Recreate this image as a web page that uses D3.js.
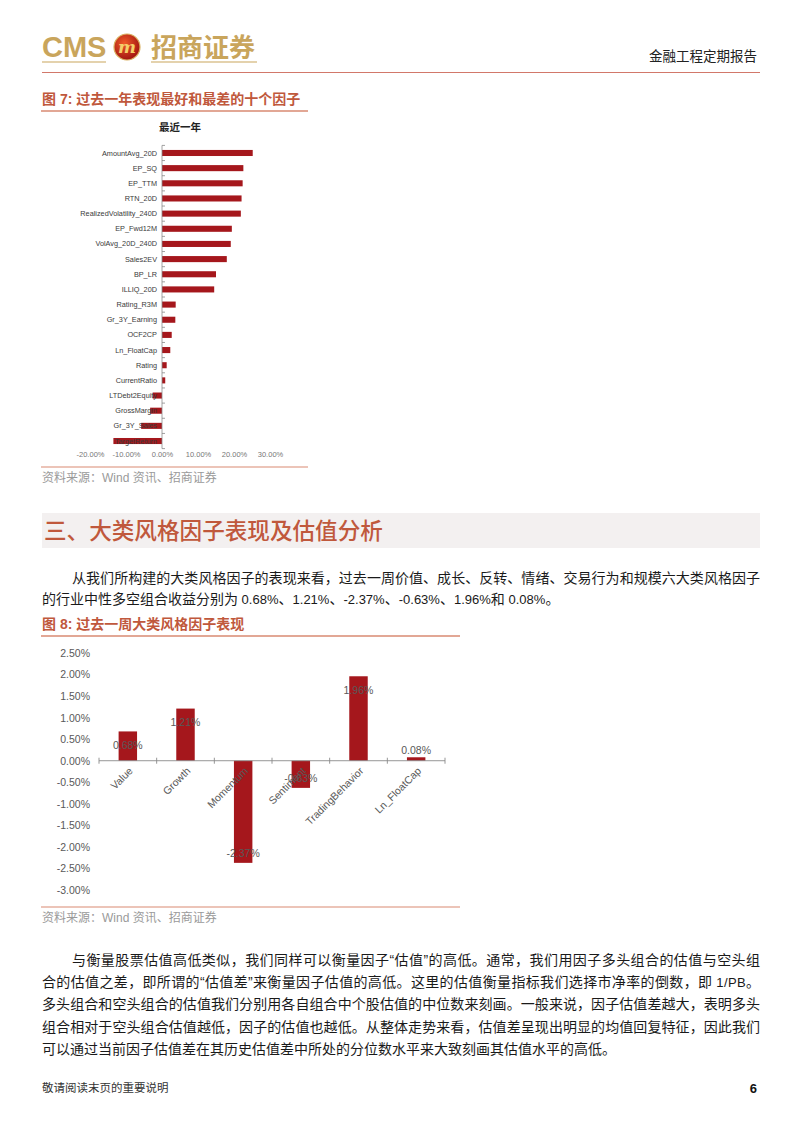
<!DOCTYPE html>
<html><head><meta charset="utf-8">
<script src="https://cdn.jsdelivr.net/npm/d3@7/dist/d3.min.js"></script>
<style>body{margin:0;background:#fff}svg{display:block}</style>
</head><body><svg id="page" width="802" height="1133"></svg>
<script>
// ---- data ----
const factors1 = ["AmountAvg_20D","EP_SQ","EP_TTM","RTN_20D","RealizedVolatility_240D","EP_Fwd12M","VolAvg_20D_240D","Sales2EV","BP_LR","ILLIQ_20D","Rating_R3M","Gr_3Y_Earning","OCF2CP","Ln_FloatCap","Rating","CurrentRatio","LTDebt2Equity","GrossMargin","Gr_3Y_Sales","TargetReturn"];
const returns1 = [25.2,22.6,22.4,22.1,21.9,19.4,19.1,18.0,15.0,14.5,3.8,3.7,2.7,2.3,1.3,0.9,-2.6,-3.3,-5.8,-13.5];
const ticks1 = [-20,-10,0,10,20,30];
const styles2 = ["Value","Growth","Momentum","Sentiment","TradingBehavior","Ln_FloatCap"];
const returns2 = [0.68,1.21,-2.37,-0.63,1.96,0.08];
const ticks2 = [2.5,2.0,1.5,1.0,0.5,0,-0.5,-1.0,-1.5,-2.0,-2.5,-3.0];

const CJK = "'Liberation Sans','Noto Sans CJK SC',sans-serif";
const svg = d3.select("#page");
const RED = "#a5171c", ACC = "#c0583c", LINE = "#d98a72", GOLD = "#c9a55c";

// ---- header ----
const defs = svg.append("defs");
const rg = defs.append("radialGradient").attr("id","lg").attr("cx","40%").attr("cy","35%").attr("r","70%");
rg.append("stop").attr("offset","0%").attr("stop-color","#f05a28");
rg.append("stop").attr("offset","100%").attr("stop-color","#9c1010");
svg.append("text").attr("x",42).attr("y",57).attr("font-family","'Liberation Sans',sans-serif")
  .attr("font-weight","bold").attr("font-size",29).attr("fill",GOLD).text("CMS");
svg.append("circle").attr("cx",127).attr("cy",47).attr("r",13).attr("fill","url(#lg)").attr("stroke","#d9b060").attr("stroke-width",1.2);
svg.append("text").attr("x",127).attr("y",53).attr("text-anchor","middle").attr("font-family","'DejaVu Serif',serif")
  .attr("font-weight","bold").attr("font-style","italic").attr("font-size",17).attr("fill","#f4cf6a").text("m");
svg.append("text").attr("x",151).attr("y",57).attr("font-family",CJK).attr("font-weight","bold")
  .attr("font-size",26).attr("fill",GOLD).text("招商证券");
svg.append("line").attr("x1",42).attr("x2",106).attr("y1",62).attr("y2",62).attr("stroke",GOLD).attr("stroke-width",1.2);
svg.append("line").attr("x1",151).attr("x2",257).attr("y1",62).attr("y2",62).attr("stroke",GOLD).attr("stroke-width",1.2);
svg.append("line").attr("x1",42).attr("x2",760).attr("y1",72.5).attr("y2",72.5).attr("stroke","#d2786a").attr("stroke-width",1);
svg.append("text").attr("x",757).attr("y",61).attr("text-anchor","end").attr("font-family",CJK)
  .attr("font-size",13.5).attr("fill","#222").text("金融工程定期报告");

// ---- helpers ----
function runs(sel, txt, size){
  // ASCII runs rendered slightly smaller (Arial-like), CJK runs at full size
  const parts = txt.match(/[\x00-\x7F]+|[^\x00-\x7F]+/g) || [];
  parts.forEach(p=>{
    sel.append("tspan").attr("font-size", /^[\x00-\x7F]+$/.test(p) ? size*0.93 : size).text(p);
  });
}
function caption(txt, y, x2){
  svg.append("text").attr("x",42).attr("y",y).attr("font-family",CJK).attr("font-weight","bold")
    .attr("font-size",14).attr("fill",ACC).text(txt);
  svg.append("line").attr("x1",41).attr("x2",x2).attr("y1",y+7).attr("y2",y+7).attr("stroke",LINE).attr("stroke-width",1.5);
}
function source(y, x2){
  svg.append("line").attr("x1",41).attr("x2",x2).attr("y1",y).attr("y2",y).attr("stroke",LINE).attr("stroke-width",1.2);
  svg.append("text").attr("x",42).attr("y",y+15).attr("font-family",CJK).attr("font-size",12)
    .attr("fill","#9a9a9a").text("资料来源：Wind 资讯、招商证券");
}
function para(lines, y0, lh){
  lines.forEach((l,i)=>{
    const t = svg.append("text").attr("x",l.x).attr("y",y0+i*lh).attr("font-family",CJK)
      .attr("font-size",14).attr("fill","#1a1a1a");
    runs(t, l.t, 14);
    if(l.w) t.attr("textLength",l.w).attr("lengthAdjust","spacing");
  });
}

// ---- figure 7 ----
caption("图 7: 过去一年表现最好和最差的十个因子", 104, 308);
svg.append("text").attr("x",180).attr("y",131).attr("text-anchor","middle").attr("font-family",CJK)
  .attr("font-weight","bold").attr("font-size",10.5).attr("fill","#222").text("最近一年");

const x1 = d3.scaleLinear().domain([-20,30]).range([90,270]);
const y1 = d3.scaleBand().domain(factors1).range([145.4,448.6]).paddingInner(0.6).paddingOuter(0.3);
const g1 = svg.append("g");
g1.selectAll("rect").data(factors1).join("rect")
  .attr("x",(d,i)=>x1(Math.min(0,returns1[i]))).attr("y",d=>y1(d))
  .attr("width",(d,i)=>Math.abs(x1(returns1[i])-x1(0))).attr("height",y1.bandwidth()).attr("fill",RED);
g1.selectAll("text.lab").data(factors1).join("text").attr("class","lab")
  .attr("x",157).attr("y",d=>y1(d)+y1.bandwidth()/2).attr("dy","0.35em").attr("text-anchor","end")
  .attr("font-family","'Liberation Sans',sans-serif").attr("font-size",7.3).attr("fill","#3a3a3a").text(d=>d);
g1.append("line").attr("x1",x1(0)).attr("x2",x1(0)).attr("y1",145.4).attr("y2",448.6).attr("stroke","#8a8a8a").attr("stroke-width",0.8);
g1.selectAll("line.tk").data(d3.range(factors1.length+1)).join("line").attr("class","tk")
  .attr("x1",x1(0)).attr("x2",x1(0)+3).attr("y1",i=>145.4+i*y1.step()).attr("y2",i=>145.4+i*y1.step())
  .attr("stroke","#8a8a8a").attr("stroke-width",0.8);
const ax1 = g1.append("g").attr("transform","translate(0,452)")
  .call(d3.axisBottom(x1).tickValues(ticks1).tickSize(0).tickPadding(0).tickFormat(d=>d.toFixed(2)+"%"));
ax1.select(".domain").remove();
ax1.selectAll("text").attr("font-family","'Liberation Sans',sans-serif").attr("font-size",7.5).attr("fill","#777");
source(467, 308);

// ---- section 3 ----
svg.append("rect").attr("x",42).attr("y",513).attr("width",718).attr("height",35).attr("fill","#f3f0f0");
svg.append("text").attr("x",44).attr("y",539).attr("font-family",CJK).attr("font-weight",500)
  .attr("font-size",22.6).attr("fill",ACC).text("三、大类风格因子表现及估值分析");
para([
  {x:72,w:688,t:"从我们所构建的大类风格因子的表现来看，过去一周价值、成长、反转、情绪、交易行为和规模六大类风格因子"},
  {x:42,t:"的行业中性多空组合收益分别为 0.68%、1.21%、-2.37%、-0.63%、1.96%和 0.08%。"}
], 583, 20.5);

// ---- figure 8 ----
caption("图 8: 过去一周大类风格因子表现", 629, 460);
const x2 = d3.scaleBand().domain(styles2).range([99,445]).paddingInner(0.68).paddingOuter(0.34);
const y2 = d3.scaleLinear().domain([-3,2.5]).range([890,653]);
const g2 = svg.append("g");
const ay2 = g2.append("g").attr("transform","translate(93,0)")
  .call(d3.axisLeft(y2).tickValues(ticks2).tickSize(0).tickPadding(3).tickFormat(d=>d.toFixed(2)+"%"));
ay2.select(".domain").remove();
ay2.selectAll("text").attr("font-family","'Liberation Sans',sans-serif").attr("font-size",10.5).attr("fill","#595959");
g2.selectAll("rect").data(styles2).join("rect")
  .attr("x",d=>x2(d)).attr("y",(d,i)=>y2(Math.max(0,returns2[i])))
  .attr("width",x2.bandwidth()).attr("height",(d,i)=>Math.abs(y2(returns2[i])-y2(0))).attr("fill",RED);
g2.append("line").attr("x1",99).attr("x2",445).attr("y1",y2(0)).attr("y2",y2(0)).attr("stroke","#8a8a8a").attr("stroke-width",0.9);
g2.selectAll("line.tk").data(d3.range(styles2.length+1)).join("line").attr("class","tk")
  .attr("x1",i=>99+i*x2.step()).attr("x2",i=>99+i*x2.step()).attr("y1",y2(0)-3).attr("y2",y2(0)+3)
  .attr("stroke","#8a8a8a").attr("stroke-width",0.9);
g2.selectAll("text.cat").data(styles2).join("text").attr("class","cat")
  .attr("transform",d=>`translate(${x2(d)+x2.bandwidth()/2+3},769) rotate(-45)`)
  .attr("text-anchor","end").attr("dy","0.35em")
  .attr("font-family","'Liberation Sans',sans-serif").attr("font-size",10.5).attr("fill","#595959").text(d=>d);
g2.selectAll("text.val").data(styles2).join("text").attr("class","val")
  .attr("x",d=>x2(d)+x2.bandwidth()/2)
  .attr("y",(d,i)=>{const v=returns2[i]; if(v>=0) return Math.abs(y2(v)-y2(0))>20 ? y2(v)+14 : y2(v)-7; return y2(v)-10;})
  .attr("dy","0.35em").attr("text-anchor","middle")
  .attr("font-family","'Liberation Sans',sans-serif").attr("font-size",10.5).attr("fill","#595959")
  .text((d,i)=>returns2[i].toFixed(2)+"%");
source(907, 460);

// ---- paragraph ----
para([
  {x:72,w:688,t:"与衡量股票估值高低类似，我们同样可以衡量因子“估值”的高低。通常，我们用因子多头组合的估值与空头组"},
  {x:42,w:718,t:"合的估值之差，即所谓的“估值差”来衡量因子估值的高低。这里的估值衡量指标我们选择市净率的倒数，即 1/PB。"},
  {x:42,w:718,t:"多头组合和空头组合的估值我们分别用各自组合中个股估值的中位数来刻画。一般来说，因子估值差越大，表明多头"},
  {x:42,w:718,t:"组合相对于空头组合估值越低，因子的估值也越低。从整体走势来看，估值差呈现出明显的均值回复特征，因此我们"},
  {x:42,t:"可以通过当前因子估值差在其历史估值差中所处的分位数水平来大致刻画其估值水平的高低。"}
], 965, 22.2);

// ---- footer ----
svg.append("text").attr("x",42).attr("y",1092).attr("font-family",CJK).attr("font-size",11.5)
  .attr("fill","#333").text("敬请阅读末页的重要说明");
svg.append("text").attr("x",757).attr("y",1093).attr("text-anchor","end").attr("font-family","'Liberation Sans',sans-serif")
  .attr("font-weight","bold").attr("font-size",13).attr("fill","#111").text("6");
</script></body></html>
